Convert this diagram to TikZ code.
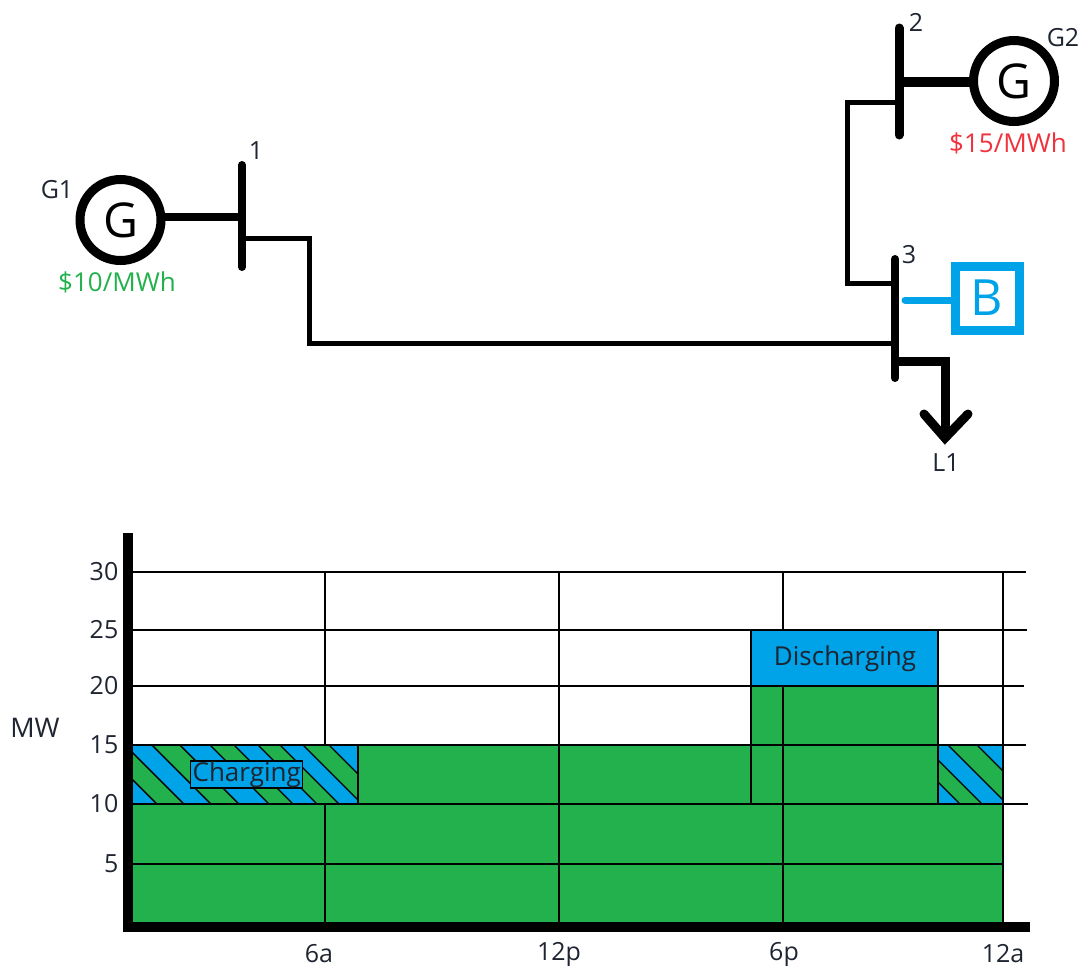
\documentclass[tikz,border=0pt]{standalone}
\usepackage{fontspec}
\setmainfont{Open Sans}
\definecolor{bblue}{HTML}{00A2E8}
\definecolor{bgreen}{HTML}{22B14C}
\definecolor{bred}{HTML}{F0323C}
\definecolor{dtext}{HTML}{1E2430}
\tikzset{
  lbl/.style={inner sep=0pt,font=\fontsize{25}{26}\selectfont,text=dtext},
  gen/.style={circle,draw=black,line width=9pt,minimum size=81pt,inner sep=0pt,fill=white,font=\fontsize{48}{50}\selectfont},
  batt/.style={rectangle,draw=bblue,line width=9pt,minimum size=64pt,inner sep=0pt,text=bblue,font=\fontsize{50}{52}\selectfont},
  busbar/.style={line width=8pt,line cap=round},
  tie/.style={line width=5pt,line join=miter},
  gridline/.style={line width=1.4pt,black},
  hatchline/.style={line width=1.4pt,black},
  axis/.style={line width=10pt,black,line join=miter},
}
\newcommand{\stripe}[3]{\fill[#3] (#1,745) -- (#2,745) -- ({#2+70},815) -- ({#1+70},815) -- cycle;}
\newcommand{\hatchln}[1]{\draw[hatchline] (#1,745) -- ({#1+70},815);}
\begin{document}
\begin{tikzpicture}[x=1pt,y=-1pt]
\useasboundingbox (0,0) rectangle (1084,967);
% --- network ---
\coordinate (b1t) at (242,165); \coordinate (b1b) at (242,267);
\coordinate (b2t) at (899,28); \coordinate (b2b) at (899,135);
\coordinate (b3t) at (895,259); \coordinate (b3b) at (895,378);
\draw[busbar] (b1t) -- (b1b);
\draw[busbar,line width=9pt] (b2t) -- (b2b);
\draw[busbar] (b3t) -- (b3b);
\coordinate (s1) at (242,217); \coordinate (g1c) at (130,217);
\coordinate (s2) at (899,82); \coordinate (g2c) at (1000,82);
\draw[line width=8pt] (g1c) -- (s1);
\draw[line width=10pt] (g2c) -- (s2);
\node[gen] (g1) at (120.5,220) {G};
\node[gen] (g2) at (1014,81) {G};
\node[batt] (b) at (987,298) {B};
\coordinate (j1) at (309,238); \coordinate (j2) at (309,343);
\draw[tie] (b1t |- j1) -- (j1) -- (j2) -- (b3t |- j2);
\coordinate (j3) at (847,102); \coordinate (j4) at (847,283);
\draw[tie] (b2t |- j3) -- (j3) -- (j4) -- (b3t |- j4);
\coordinate (bs) at (905,300);
\draw[bblue,line width=7pt,line cap=round] (b.west |- bs) -- (bs);
\coordinate (ld1) at (945,361); \coordinate (tip) at (945,438);
\draw[line width=9pt,line join=miter] (b3t |- ld1) -- (ld1) -- (tip);
\coordinate (al) at (924,414); \coordinate (ar) at (968,414);
\draw[line width=9pt,line cap=round,line join=miter] (al) -- (tip) -- (ar);
\node[lbl] (n1) at (256,151) {1};
\node[lbl] (n2) at (916,22) {2};
\node[lbl] (n3) at (909,255) {3};
\node[lbl] (ng1) at (57,190) {G1};
\node[lbl] (ng2) at (1063,38) {G2};
\node[lbl] (nl1) at (946,463) {L1};
\node[lbl,text=bred,font=\fontsize{26}{28}\selectfont] (p2) at (1008,143) {\$15/MWh};
\node[lbl,text=bgreen,font=\fontsize{26}{28}\selectfont] (p1) at (117,282) {\$10/MWh};
% --- chart: grid behind ---
\foreach \yy/\ee in {572/1026,630/1027,686/1024,745/1026,804/1028}
  \draw[gridline] (130,\yy) -- (\ee,\yy);
\foreach \xx in {325,559,783,1003}
  \draw[gridline] (\xx,572) -- (\xx,922);
% fills
\fill[bgreen] (133,804) rectangle (1003,922);
\fill[bgreen] (358,745) rectangle (938,804);
\fill[bgreen] (751,686) rectangle (938,745);
\fill[bblue] (751,630) rectangle (938,686);
% hatch left
\begin{scope}
\clip (133,745) rectangle (358,804);
\fill[bblue] (133,745) rectangle (358,804);
\stripe{98}{125}{bgreen}
\stripe{152}{180}{bgreen}
\stripe{210}{234}{bgreen}
\stripe{258}{280}{bgreen}
\stripe{303}{329}{bgreen}
\foreach \cc in {98,125,152,180,210,234,258,280,303,329} {\hatchln{\cc}}
\end{scope}
% hatch right
\begin{scope}
\clip (938,745) rectangle (1003,804);
\fill[bblue] (938,745) rectangle (1003,804);
\stripe{901}{923}{bgreen}
\stripe{948}{977}{bgreen}
\foreach \cc in {901,923,948,977} {\hatchln{\cc}}
\end{scope}
% lines above fills
\foreach \yy/\ss/\ee in {745/133/1026,804/133/1028,864/133/1003,686/751/1024,630/751/1027}
  \draw[gridline] (\ss,\yy) -- (\ee,\yy);
\foreach \xx/\ss/\ee in {325/804/922,559/745/922,783/686/922,1003/745/922,751/630/804,938/630/804,358/745/804}
  \draw[gridline] (\xx,\ss) -- (\xx,\ee);
\node[draw=black,line width=1.4pt,fill=bblue,minimum width=112pt,minimum height=27pt,inner sep=0pt,font=\fontsize{26}{28}\selectfont,text=dtext] (chg) at (246.7,774.5) {Charging};
\node[lbl,font=\fontsize{26}{28}\selectfont] (dis) at (845,659) {Discharging};
% axes
\coordinate (o) at (128.3,926.7);
\coordinate (ytop) at (128.3,533); \coordinate (xend) at (1030,926.7);
\draw[axis] (ytop) -- (o) -- (xend);
% axis labels
\foreach \yy/\tt in {572/30,630/25,686/20,745/15,804/10,864/5}
  \node[lbl,anchor=east] (y\tt) at (118.5,\yy) {\tt};
\node[lbl,font=\fontsize{27}{28}\selectfont] (mw) at (35,728) {MW};
\node[lbl] (t6a) at (319,954) {6a};
\node[lbl] (t12p) at (559,954) {12p};
\node[lbl] (t6p) at (784,954) {6p};
\node[lbl] (t12a) at (1003,954) {12a};
\end{tikzpicture}
\end{document}
